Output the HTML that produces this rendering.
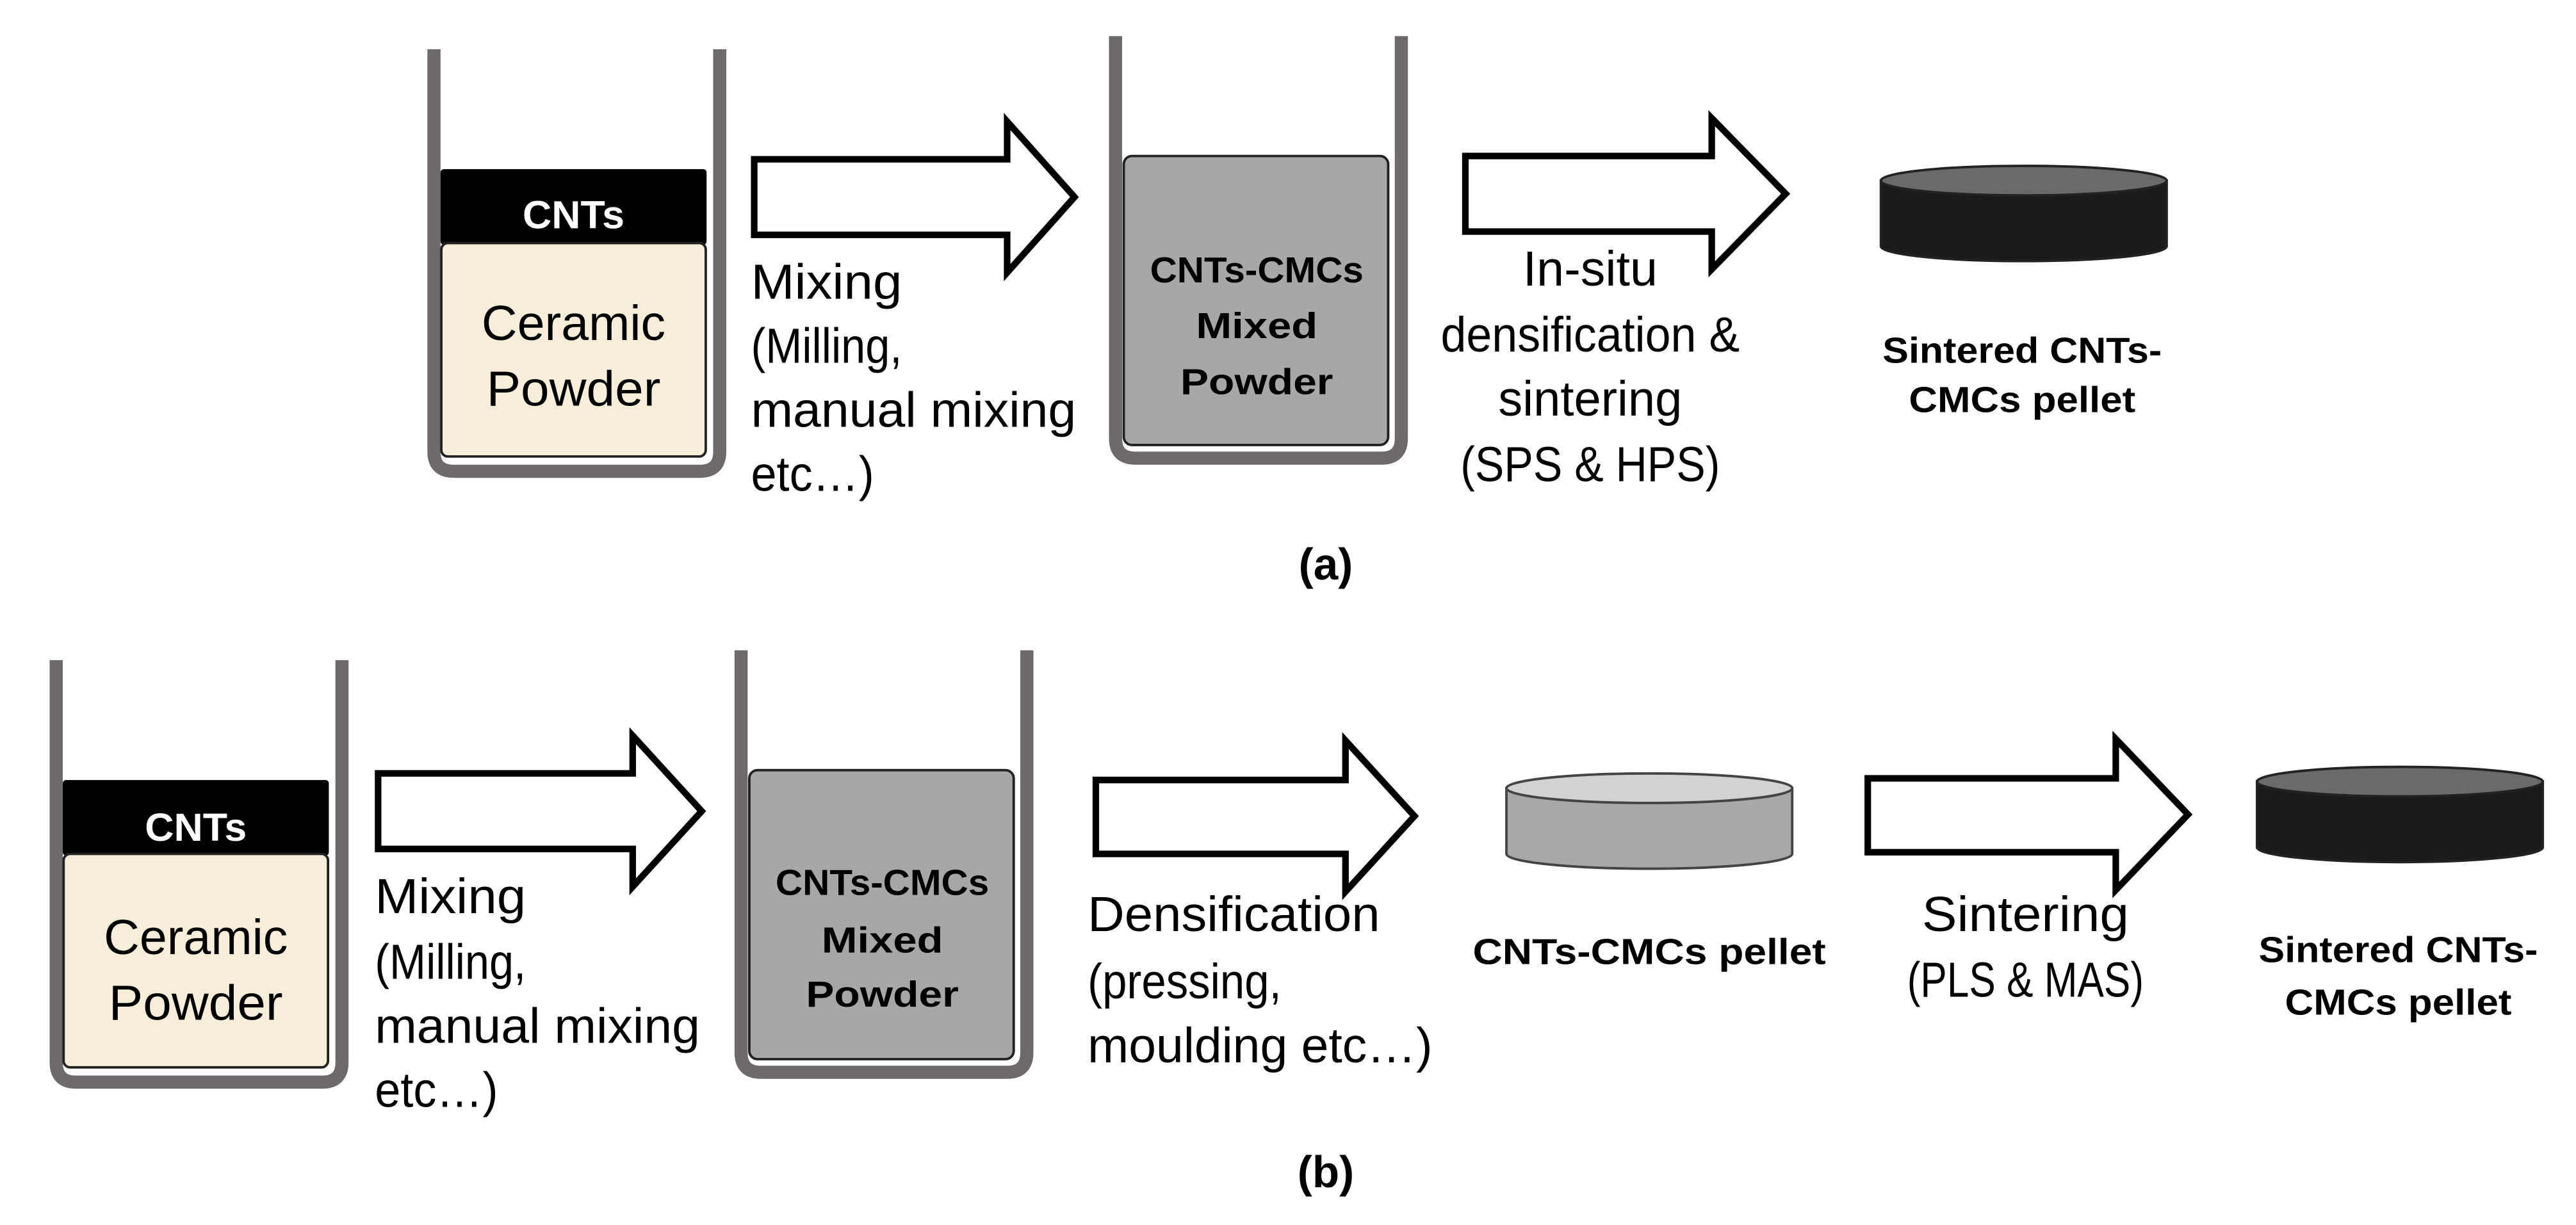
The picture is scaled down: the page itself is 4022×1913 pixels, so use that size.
<!DOCTYPE html>
<html><head><meta charset="utf-8"><style>
html,body{margin:0;padding:0;background:#fff;}
svg{display:block;}
text{font-family:"Liberation Sans",sans-serif;fill:#000;}
.n{font-size:30px;}
.b{font-size:22px;font-weight:bold;}
</style></head><body>
<svg width="4022" height="1913" viewBox="0 0 1568 746" xmlns="http://www.w3.org/2000/svg">
<defs>
<g id="beaker1">
  <path d="M4,0 V245 Q4,257 16,257 H166 Q178,257 178,245 V0" fill="none" stroke="#6e6a6a" stroke-width="8"/>
  <rect x="8" y="73" width="162" height="46" rx="2" fill="#000"/>
  <rect x="8.5" y="118" width="161" height="130" rx="4" fill="#f6eed8" stroke="#222" stroke-width="1.5"/>
</g>
<g id="beaker2">
  <path d="M4,0 V245 Q4,257 16,257 H166 Q178,257 178,245 V0" fill="none" stroke="#6e6a6a" stroke-width="8"/>
  <rect x="9" y="73" width="161" height="176" rx="5" fill="#a8a6a6" stroke="#222" stroke-width="1.5"/>
</g>
</defs>
<g style="" >
<!-- (a) -->
<use href="#beaker1" x="260" y="30"/>
<text x="349" y="139" text-anchor="middle" style="font-size:24px;font-weight:bold;fill:#fff" textLength="62" lengthAdjust="spacingAndGlyphs">CNTs</text>
<text class="n" x="349" y="207" text-anchor="middle" textLength="112" lengthAdjust="spacingAndGlyphs">Ceramic</text>
<text class="n" x="349" y="247" text-anchor="middle" textLength="106" lengthAdjust="spacingAndGlyphs">Powder</text>

<path d="M459,97 H613 V74 L654,120 L613,166 V143 H459 Z" fill="#fff" stroke="#000" stroke-width="4"/>
<text class="n" x="457" y="182" textLength="92" lengthAdjust="spacingAndGlyphs">Mixing</text>
<text class="n" x="457" y="221" textLength="92" lengthAdjust="spacingAndGlyphs">(Milling,</text>
<text class="n" x="457" y="260" textLength="198" lengthAdjust="spacingAndGlyphs">manual mixing</text>
<text class="n" x="457" y="299" textLength="75" lengthAdjust="spacingAndGlyphs">etc…)</text>

<use href="#beaker2" x="675" y="22"/>
<text class="b" x="765" y="172" text-anchor="middle" textLength="130" lengthAdjust="spacingAndGlyphs">CNTs-CMCs</text>
<text class="b" x="765" y="206" text-anchor="middle" textLength="74" lengthAdjust="spacingAndGlyphs">Mixed</text>
<text class="b" x="765" y="240" text-anchor="middle" textLength="93" lengthAdjust="spacingAndGlyphs">Powder</text>

<path d="M892,95 H1042 V72 L1087,118 L1042,164 V141 H892 Z" fill="#fff" stroke="#000" stroke-width="4"/>
<text class="n" x="968" y="174" text-anchor="middle" textLength="82" lengthAdjust="spacingAndGlyphs">In-situ</text>
<text class="n" x="968" y="214" text-anchor="middle" textLength="182" lengthAdjust="spacingAndGlyphs">densification &amp;</text>
<text class="n" x="968" y="253" text-anchor="middle" textLength="112" lengthAdjust="spacingAndGlyphs">sintering</text>
<text class="n" x="968" y="293" text-anchor="middle" textLength="158" lengthAdjust="spacingAndGlyphs">(SPS &amp; HPS)</text>

<g>
  <path d="M1145,110 V150 A87,9 0 0 0 1319,150 V110 Z" fill="#1b1b1b" stroke="#222" stroke-width="1.5"/>
  <ellipse cx="1232" cy="110" rx="87" ry="9" fill="#6a6a6a" stroke="#222" stroke-width="1.5"/>
</g>
<text class="b" x="1231" y="221" text-anchor="middle" textLength="170" lengthAdjust="spacingAndGlyphs">Sintered CNTs-</text>
<text class="b" x="1231" y="251" text-anchor="middle" textLength="138" lengthAdjust="spacingAndGlyphs">CMCs pellet</text>

<text x="807" y="353" text-anchor="middle" style="font-size:27px;font-weight:bold">(a)</text>

<!-- (b) -->
<use href="#beaker1" x="30" y="402"/>
<text x="119" y="512" text-anchor="middle" style="font-size:24px;font-weight:bold;fill:#fff" textLength="62" lengthAdjust="spacingAndGlyphs">CNTs</text>
<text class="n" x="119" y="581" text-anchor="middle" textLength="112" lengthAdjust="spacingAndGlyphs">Ceramic</text>
<text class="n" x="119" y="621" text-anchor="middle" textLength="106" lengthAdjust="spacingAndGlyphs">Powder</text>

<path d="M230,471 H385 V448 L427,494 L385,540 V517 H230 Z" fill="#fff" stroke="#000" stroke-width="4"/>
<text class="n" x="228" y="556" textLength="92" lengthAdjust="spacingAndGlyphs">Mixing</text>
<text class="n" x="228" y="596" textLength="92" lengthAdjust="spacingAndGlyphs">(Milling,</text>
<text class="n" x="228" y="635" textLength="198" lengthAdjust="spacingAndGlyphs">manual mixing</text>
<text class="n" x="228" y="674" textLength="75" lengthAdjust="spacingAndGlyphs">etc…)</text>

<use href="#beaker2" x="447" y="396"/>
<text class="b" x="537" y="545" text-anchor="middle" textLength="130" lengthAdjust="spacingAndGlyphs">CNTs-CMCs</text>
<text class="b" x="537" y="580" text-anchor="middle" textLength="74" lengthAdjust="spacingAndGlyphs">Mixed</text>
<text class="b" x="537" y="613" text-anchor="middle" textLength="93" lengthAdjust="spacingAndGlyphs">Powder</text>

<path d="M667,475 H819 V451 L861,497 L819,543 V520 H667 Z" fill="#fff" stroke="#000" stroke-width="4"/>
<text class="n" x="662" y="567" textLength="178" lengthAdjust="spacingAndGlyphs">Densification</text>
<text class="n" x="662" y="608" textLength="118" lengthAdjust="spacingAndGlyphs">(pressing,</text>
<text class="n" x="662" y="647" textLength="210" lengthAdjust="spacingAndGlyphs">moulding etc…)</text>

<g>
  <path d="M917,480 V520 A87,9 0 0 0 1091,520 V480 Z" fill="#aaa7a7" stroke="#444" stroke-width="1.5"/>
  <ellipse cx="1004" cy="480" rx="87" ry="9" fill="#d3d2d2" stroke="#444" stroke-width="1.5"/>
</g>
<text class="b" x="1004" y="587" text-anchor="middle" textLength="215" lengthAdjust="spacingAndGlyphs">CNTs-CMCs pellet</text>

<path d="M1137,474 H1288 V450 L1332,496 L1288,542 V519 H1137 Z" fill="#fff" stroke="#000" stroke-width="4"/>
<text class="n" x="1233" y="567" text-anchor="middle" textLength="126" lengthAdjust="spacingAndGlyphs">Sintering</text>
<text class="n" x="1233" y="607" text-anchor="middle" textLength="144" lengthAdjust="spacingAndGlyphs">(PLS &amp; MAS)</text>

<g>
  <path d="M1374,476 V516 A87,9 0 0 0 1548,516 V476 Z" fill="#1b1b1b" stroke="#222" stroke-width="1.5"/>
  <ellipse cx="1461" cy="476" rx="87" ry="9" fill="#6a6a6a" stroke="#222" stroke-width="1.5"/>
</g>
<text class="b" x="1460" y="586" text-anchor="middle" textLength="170" lengthAdjust="spacingAndGlyphs">Sintered CNTs-</text>
<text class="b" x="1460" y="618" text-anchor="middle" textLength="138" lengthAdjust="spacingAndGlyphs">CMCs pellet</text>

<text x="807" y="723" text-anchor="middle" style="font-size:27px;font-weight:bold">(b)</text>
</g>
</svg>
</body></html>
